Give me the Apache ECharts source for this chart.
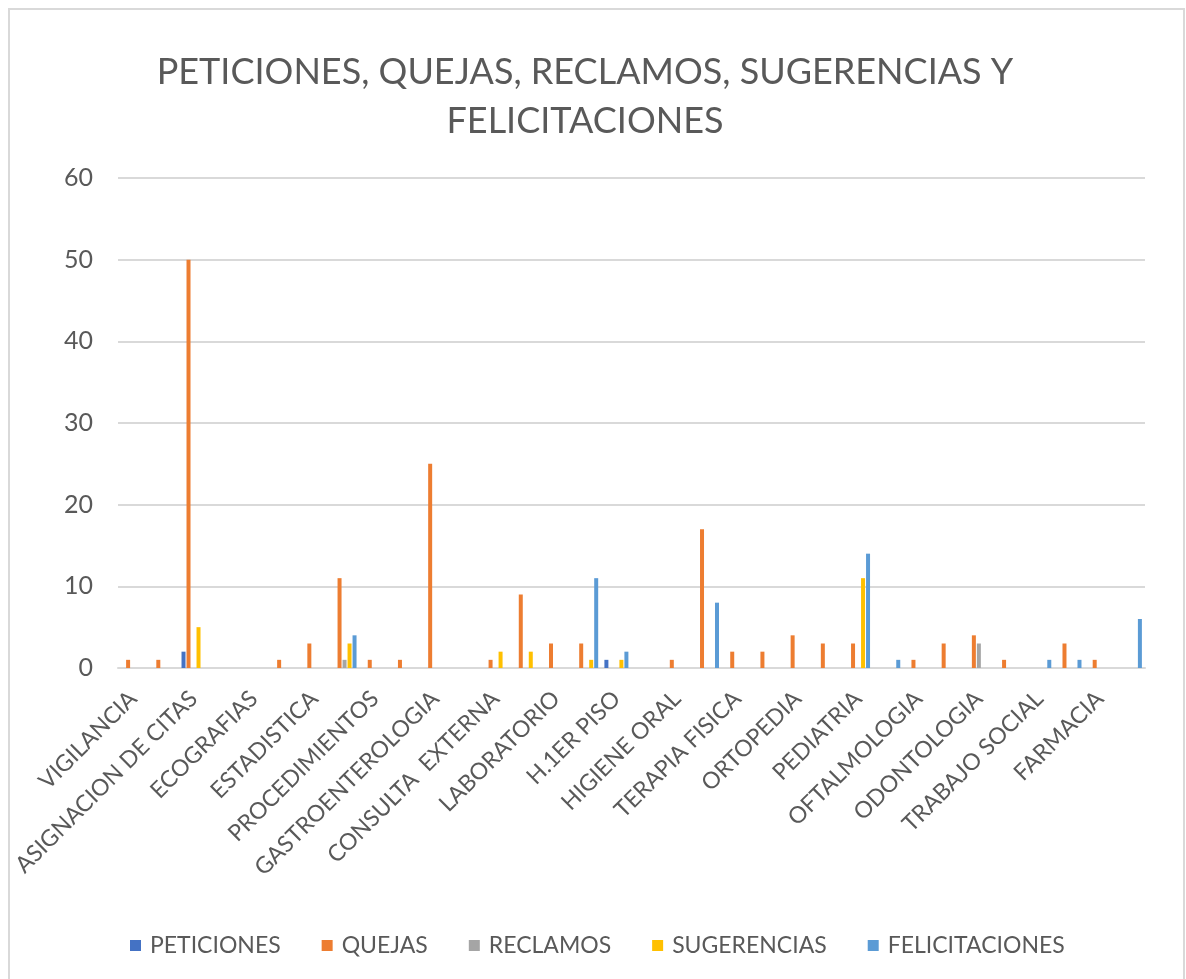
<!DOCTYPE html>
<html>
<head>
<meta charset="utf-8">
<title>PQRSF</title>
<script src="https://cdn.jsdelivr.net/npm/echarts@6/dist/echarts.min.js"></script>
<style>
  html, body { margin: 0; background: #fff; }
  #chart { width: 1186px; height: 979px; }
</style>
</head>
<body>
<div id="chart"></div>
<script>
// categorias (Excel solo rotula una de cada dos)
const areas = [
    'VIGILANCIA', '', 'ASIGNACION DE CITAS', '', 'ECOGRAFIAS', '', 'ESTADISTICA', '',
    'PROCEDIMIENTOS', '', 'GASTROENTEROLOGIA', '', 'CONSULTA  EXTERNA', '', 'LABORATORIO', '',
    'H.1ER PISO', '', 'HIGIENE ORAL', '', 'TERAPIA FISICA', '', 'ORTOPEDIA', '',
    'PEDIATRIA', '', 'OFTALMOLOGIA', '', 'ODONTOLOGIA', '', 'TRABAJO SOCIAL', '',
    'FARMACIA', ''
];

const peticiones   = [0, 0, 2, 0, 0, 0, 0, 0, 0, 0, 0, 0, 0, 0, 0, 0, 1, 0, 0, 0, 0, 0, 0, 0, 0, 0, 0, 0, 0, 0, 0, 0, 0, 0];
const quejas       = [1, 1, 50, 0, 0, 1, 3, 11, 1, 1, 25, 0, 1, 9, 3, 3, 0, 0, 1, 17, 2, 2, 4, 3, 3, 0, 1, 3, 4, 1, 0, 3, 1, 0];
const reclamos     = [0, 0, 0, 0, 0, 0, 0, 1, 0, 0, 0, 0, 0, 0, 0, 0, 0, 0, 0, 0, 0, 0, 0, 0, 0, 0, 0, 0, 3, 0, 0, 0, 0, 0];
const sugerencias  = [0, 0, 5, 0, 0, 0, 0, 3, 0, 0, 0, 0, 2, 2, 0, 1, 1, 0, 0, 0, 0, 0, 0, 0, 11, 0, 0, 0, 0, 0, 0, 0, 0, 0];
const felicitaciones = [0, 0, 0, 0, 0, 0, 0, 4, 0, 0, 0, 0, 0, 0, 0, 11, 2, 0, 0, 8, 0, 0, 0, 0, 14, 1, 0, 0, 0, 0, 1, 1, 0, 6];

const seriesNames = ['PETICIONES', 'QUEJAS', 'RECLAMOS', 'SUGERENCIAS', 'FELICITACIONES'];
const seriesValues = [peticiones, quejas, reclamos, sugerencias, felicitaciones];
const colors = ['#4472C4', '#ED7D31', '#A5A5A5', '#FFC000', '#5B9BD5'];

const font = 'Lato, "Open Sans", sans-serif';
const textColor = '#595959';

const chart = echarts.init(document.getElementById('chart'));
chart.setOption({
    animation: false,
    color: colors,
    textStyle: { fontFamily: font },
    graphic: [{
        type: 'rect',
        shape: { x: 9, y: 9, width: 1175, height: 990 },
        style: { fill: 'none', stroke: '#d9d9d9', lineWidth: 2 },
        silent: true
    }],
    title: {
        text: 'PETICIONES, QUEJAS, RECLAMOS, SUGERENCIAS Y\nFELICITACIONES',
        left: 580,
        top: 43,
        textAlign: 'center',
        textStyle: {
            fontFamily: font,
            fontSize: 36,
            fontWeight: 'normal',
            color: textColor,
            lineHeight: 49
        }
    },
    legend: {
        data: seriesNames,
        left: 125,
        top: 929,
        icon: 'rect',
        itemWidth: 11,
        itemHeight: 11,
        itemGap: 41,
        textStyle: { fontFamily: font, fontSize: 23, color: textColor, padding: [0, 0, 0, 4] }
    },
    grid: { left: 118, right: 41, top: 178, bottom: 311, containLabel: false },
    xAxis: {
        type: 'category',
        data: areas,
        axisLine: { lineStyle: { color: '#d9d9d9', width: 2 } },
        axisTick: { show: false },
        axisLabel: {
            interval: 0,
            rotate: 45,
            margin: 27,
            fontFamily: font,
            fontSize: 23,
            color: textColor
        }
    },
    yAxis: {
        type: 'value',
        min: 0,
        max: 60,
        interval: 10,
        axisLine: { show: false },
        axisTick: { show: false },
        axisLabel: { fontFamily: font, fontSize: 25, color: textColor, margin: 25 },
        splitLine: { lineStyle: { color: '#d9d9d9', width: 2 } }
    },
    series: seriesNames.map((name, i) => ({
        name: name,
        type: 'bar',
        barWidth: 4,
        barGap: '25%',
        data: seriesValues[i]
    }))
});
window.addEventListener('resize', () => chart.resize());
</script>
</body>
</html>
